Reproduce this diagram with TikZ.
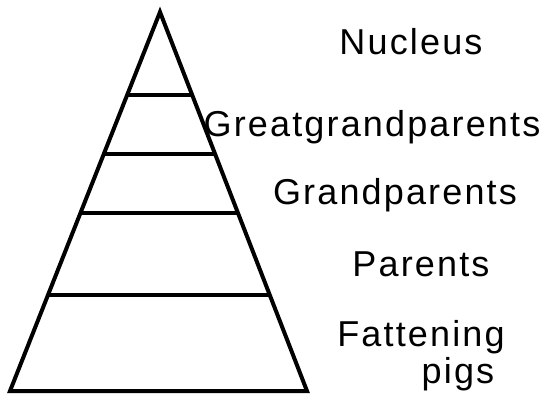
\documentclass[tikz,border=0pt]{standalone}
\usepackage{fontspec}
\setmainfont{Liberation Sans}
\newfontfamily\lblfont[LetterSpace=6]{Liberation Sans}
\usetikzlibrary{calc}

\begin{document}
\begin{tikzpicture}[x=0.5pt, y=-0.5pt,
  edge/.style={draw, line width=2pt},
  tier/.style={font=\fontsize{18}{20}\lblfont, anchor=base, inner sep=0pt}]
\useasboundingbox (0,0) rectangle (552,393);
\coordinate (apex) at (160,12);
\coordinate (bl)   at (10,391);
\coordinate (br)   at (307,391);
\draw[edge] (bl) -- (apex) -- (br) -- cycle;
\foreach \t in {0.219,0.375,0.530,0.747}
  \draw[edge] ($(apex)!\t!(bl)$) -- ($(apex)!\t!(br)$);
\node[tier] (nuc)  at (411,54)  {Nucleus};
\node[tier] (ggp)  at (372,136) {Greatgrandparents};
\node[tier] (gp)   at (395,204) {Grandparents};
\node[tier] (par)  at (421,276) {Parents};
\node[tier] (fat)  at (421,346) {Fattening};
\node[tier] (pigs) at (458,383) {pigs};
\end{tikzpicture}
\end{document}
